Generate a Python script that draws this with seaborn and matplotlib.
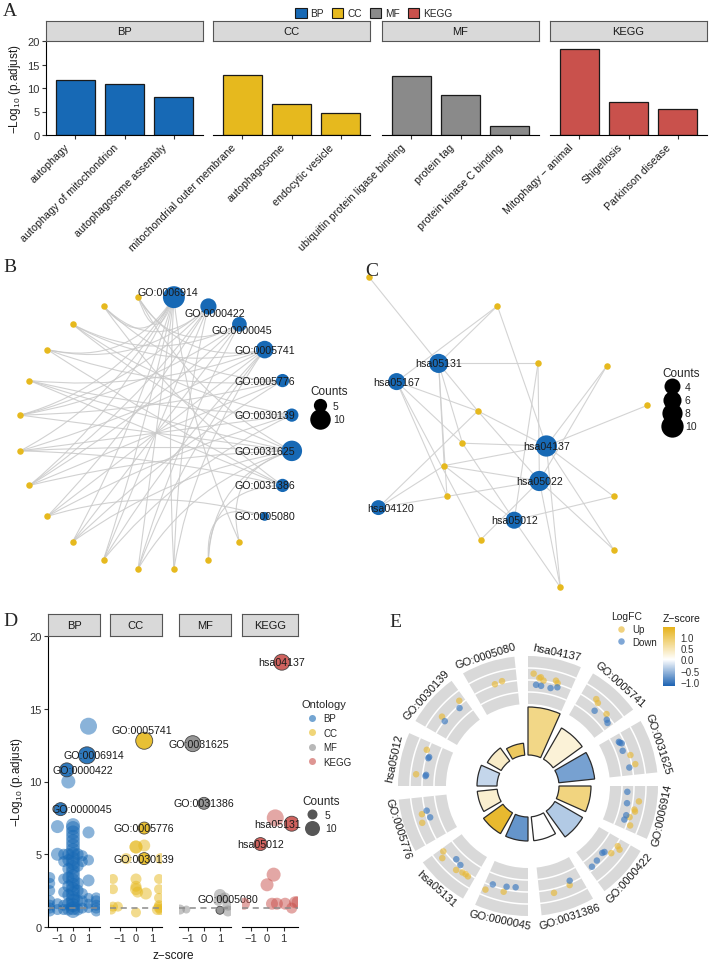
import numpy as np
import pandas as pd
import matplotlib
matplotlib.use("Agg")
import matplotlib.pyplot as plt
from matplotlib.lines import Line2D
from matplotlib.patches import Patch, PathPatch
from matplotlib.path import Path
from matplotlib.colors import LinearSegmentedColormap, Normalize
from matplotlib.cm import ScalarMappable
from matplotlib.transforms import ScaledTranslation
import seaborn as sns

# ---------------- shared ----------------
ontologies = ["BP", "CC", "MF", "KEGG"]
onto_colors = {"BP": "#1769B5", "CC": "#E6B91E", "MF": "#8A8A8A", "KEGG": "#C9514C"}
node_blue = "#1769B5"
node_gold = "#E6B91E"

# ---------------- A: top terms ----------------
bar_terms = ["autophagy", "autophagy of mitochondrion", "autophagosome assembly",
             "mitochondrial outer membrane", "autophagosome", "endocytic vesicle",
             "ubiquitin protein ligase binding", "protein tag", "protein kinase C binding",
             "Mitophagy \u2212 animal", "Shigellosis", "Parkinson disease"]
bar_onto = ["BP", "BP", "BP", "CC", "CC", "CC", "MF", "MF", "MF", "KEGG", "KEGG", "KEGG"]
bar_logp = [11.8, 10.8, 8.1, 12.8, 6.7, 4.6, 12.6, 8.5, 1.9, 18.2, 7.0, 5.6]

# ---------------- B: GO gene-concept network ----------------
cnet_terms = ["GO:0006914", "GO:0000422", "GO:0000045", "GO:0005741", "GO:0005776",
              "GO:0030139", "GO:0031625", "GO:0031386", "GO:0005080"]
cnet_genes = ["g01", "g02", "g03", "g04", "g05", "g06", "g07", "g08",
              "g09", "g10", "g11", "g12", "g13", "g14", "g15"]
cnet_links = {
    "g01": ["GO:0006914", "GO:0031625"],
    "g02": ["GO:0005080", "GO:0031625", "GO:0031386"],
    "g03": ["GO:0000422", "GO:0006914", "GO:0005741"],
    "g04": ["GO:0006914", "GO:0005741", "GO:0031625", "GO:0000045"],
    "g05": ["GO:0000422", "GO:0005741", "GO:0030139", "GO:0006914"],
    "g06": ["GO:0006914", "GO:0000045", "GO:0005776", "GO:0031625"],
    "g07": ["GO:0000422", "GO:0005741", "GO:0030139", "GO:0005080"],
    "g08": ["GO:0006914", "GO:0031625", "GO:0005776", "GO:0000045", "GO:0000422"],
    "g09": ["GO:0005741", "GO:0030139", "GO:0031625", "GO:0006914", "GO:0031386"],
    "g10": ["GO:0000422", "GO:0005776", "GO:0031625", "GO:0006914", "GO:0000045"],
    "g11": ["GO:0005741", "GO:0030139", "GO:0031625", "GO:0031386"],
    "g12": ["GO:0006914", "GO:0000422", "GO:0005776", "GO:0031386"],
    "g13": ["GO:0005741", "GO:0030139", "GO:0031625", "GO:0000045"],
    "g14": ["GO:0006914", "GO:0000422", "GO:0005776", "GO:0031386"],
    "g15": ["GO:0006914", "GO:0000045", "GO:0005741", "GO:0031625"],
}
# text nudges of the repelled labels (layout units)
cnet_label_shift = {"GO:0006914": (-0.045, 0.035), "GO:0000422": (0.05, -0.045),
                    "GO:0000045": (0.02, -0.045), "GO:0005776": (-0.13, 0),
                    "GO:0030139": (-0.2, 0), "GO:0031625": (-0.2, 0),
                    "GO:0031386": (-0.13, 0)}

# ---------------- C: KEGG network (layout coordinates) ----------------
kegg_terms = ["hsa05131", "hsa05167", "hsa04137", "hsa05022", "hsa05012", "hsa04120"]
kegg_term_x = [-0.51, -0.81, 0.26, 0.21, 0.03, -0.94]
kegg_term_y = [0.54, 0.41, -0.05, -0.30, -0.58, -0.49]
kegg_genes = ["k01", "k02", "k03", "k04", "k05", "k06", "k07",
              "k08", "k09", "k10", "k11", "k12", "k13"]
kegg_gene_x = [-1.01, -0.09, 0.20, 0.69, 0.98, -0.23, -0.34, -0.47, -0.45, 0.74, -0.21, 0.74, 0.36]
kegg_gene_y = [1.16, 0.95, 0.54, 0.52, 0.24, 0.20, -0.03, -0.19, -0.41, -0.41, -0.72, -0.79, -1.06]
kegg_links = {
    "k01": ["hsa05131"],
    "k02": ["hsa05131", "hsa05167", "hsa04137"],
    "k03": ["hsa05131", "hsa05022", "hsa05012"],
    "k04": ["hsa04137", "hsa05022"],
    "k05": ["hsa04137"],
    "k06": ["hsa05131", "hsa05167", "hsa04137", "hsa04120", "hsa05022"],
    "k07": ["hsa05131", "hsa05167", "hsa04137", "hsa05012"],
    "k08": ["hsa05131", "hsa04137", "hsa05022", "hsa04120", "hsa05012"],
    "k09": ["hsa05131", "hsa05167", "hsa05022", "hsa04120"],
    "k10": ["hsa04137", "hsa05012"],
    "k11": ["hsa05167", "hsa05022"],
    "k12": ["hsa04137", "hsa05022"],
    "k13": ["hsa05022", "hsa05012", "hsa04137"],
}
kegg_label_shift = {"hsa04120": (0.09, 0)}

# ---------------- D: bubble plot (z-score, -log10 p, count) ----------------
bubble_bg = {
    "BP": [(0.0, 1.1, 9), (0.0, 1.3, 9), (0.0, 1.5, 9), (0.0, 1.8, 9), (0.0, 2.0, 9), (0.0, 2.3, 9),
           (0.0, 2.6, 9), (0.0, 2.9, 9), (0.0, 3.2, 9), (0.0, 3.5, 9), (0.0, 3.8, 9), (0.0, 4.1, 9),
           (0.0, 4.4, 9), (0.0, 4.7, 9), (0.0, 5.0, 9), (0.0, 5.3, 9), (0.0, 5.6, 9), (0.0, 5.9, 9),
           (0.0, 6.2, 9), (0.0, 6.5, 9), (0.0, 6.8, 9), (0.0, 7.0, 9),
           (-0.3, 1.2, 7), (-0.3, 1.6, 7), (-0.3, 2.2, 7), (-0.3, 2.8, 7), (-0.3, 3.4, 7),
           (-0.3, 4.0, 7), (-0.3, 4.6, 7), (-0.3, 5.0, 7),
           (0.3, 1.2, 7), (0.3, 1.8, 7), (0.3, 2.5, 7), (0.3, 3.0, 7), (0.3, 4.2, 7), (0.3, 5.0, 7),
           (-0.6, 1.2, 6), (-0.6, 1.5, 6), (-0.6, 2.4, 6), (-0.6, 3.3, 6), (-0.6, 4.5, 6), (-0.6, 5.0, 6),
           (0.6, 1.3, 6), (0.6, 1.8, 6), (0.6, 2.3, 6), (0.6, 4.5, 6), (0.6, 4.9, 6),
           (-1.0, 1.2, 6), (-1.0, 1.6, 6), (-1.0, 5.0, 8), (-1.0, 6.9, 8),
           (1.0, 1.3, 5), (1.0, 1.6, 5), (1.0, 2.0, 5), (1.0, 3.2, 7), (1.0, 4.6, 6), (1.0, 6.5, 7),
           (-1.5, 1.1, 6), (-1.5, 1.3, 6), (-1.5, 1.5, 6), (-1.5, 1.8, 6), (-1.5, 2.5, 6),
           (-1.5, 3.0, 6), (-1.5, 3.4, 6),
           (1.5, 1.1, 6), (1.5, 1.3, 6), (1.5, 1.5, 6), (1.5, 1.8, 6), (1.5, 2.0, 6),
           (1.0, 13.8, 12), (-0.3, 10.0, 9)],
    "CC": [(0.0, 5.5, 8), (0.0, 5.5, 8), (0.5, 5.6, 7), (-0.6, 4.7, 6), (1.5, 4.7, 6),
           (0.0, 3.3, 6), (0.0, 2.8, 6), (0.0, 2.6, 7), (0.1, 2.4, 6), (0.6, 2.3, 7),
           (-1.4, 3.3, 5), (-1.4, 2.6, 5), (-1.4, 1.4, 5), (-1.1, 1.4, 5), (-1.5, 1.2, 5),
           (1.4, 3.3, 5), (1.4, 2.6, 5), (1.4, 2.0, 5), (1.4, 1.5, 5), (1.3, 1.2, 6),
           (1.5, 1.2, 6), (1.4, 1.35, 6), (0.0, 1.0, 5)],
    "MF": [(-1.5, 1.2, 5), (-1.1, 1.2, 3), (1.0, 2.2, 7), (1.3, 2.0, 6), (1.5, 1.5, 6),
           (1.5, 1.1, 6), (0.9, 1.8, 5)],
    "KEGG": [(0.5, 7.5, 12), (0.4, 3.6, 9), (0.0, 2.9, 8), (-1.4, 1.6, 7), (0.3, 1.6, 7),
             (0.6, 1.6, 7), (1.1, 1.6, 7), (1.7, 1.7, 7), (1.5, 1.3, 6), (1.85, 1.7, 7)],
}
bubble_top = [
    ("BP", "GO:0006914", 0.9, 11.8, 12), ("BP", "GO:0000422", -0.4, 10.8, 9),
    ("BP", "GO:0000045", -0.8, 8.1, 8),
    ("CC", "GO:0005741", 0.5, 12.8, 12), ("CC", "GO:0005776", 0.5, 6.8, 7),
    ("CC", "GO:0030139", 0.5, 4.7, 7),
    ("MF", "GO:0031625", -0.7, 12.6, 11), ("MF", "GO:0031386", 0.0, 8.5, 7),
    ("MF", "GO:0005080", 1.0, 1.15, 3),
    ("KEGG", "hsa04137", 0.9, 18.2, 11), ("KEGG", "hsa05131", 1.5, 7.1, 10),
    ("KEGG", "hsa05012", -0.4, 5.7, 8),
]
bubble_label_shift = {"GO:0006914": (0.45, 0), "GO:0000422": (1.05, 0), "GO:0000045": (1.4, 0),
                      "GO:0005741": (-0.15, 0.75), "GO:0031625": (0.4, 0), "GO:0005080": (0.5, 0.8),
                      "hsa05131": (-0.85, 0)}
neg_log_cutoff = 1.3

# ---------------- E: GO circle ----------------
circ_terms = ["hsa04137", "GO:0005741", "GO:0031625", "GO:0006914", "GO:0000422", "GO:0031386",
              "GO:0000045", "hsa05131", "GO:0005776", "hsa05012", "GO:0030139", "GO:0005080"]
circ_count = [12, 9, 9, 8, 8, 6, 6, 6, 5, 5, 4, 3]
circ_zscore = [0.75, 0.25, -0.7, 0.8, -0.4, 0.0, -0.8, 1.3, 0.3, -0.3, 0.35, 1.0]
# (position inside the sector, logFC) of each gene
circ_genes = {
    "hsa04137": [(0.12, 1.3), (0.25, 0.5), (0.35, 0.1), (0.28, 0.7), (0.62, 0.6), (0.67, 0.2),
                 (0.19, -0.9), (0.31, -1.0), (0.54, -1.1), (0.69, -0.6)],
    "GO:0005741": [(0.34, 0.9), (0.42, 0.5), (0.73, 0.1), (0.48, -1.1), (0.83, -0.6), (0.9, -0.9)],
    "GO:0031625": [(0.55, 0.2), (0.77, 0.7), (0.17, -1.0), (0.23, -0.6), (0.4, -1.0),
                   (0.82, -0.6), (0.2, -0.9)],
    "GO:0006914": [(0.33, 1.2), (0.52, 0.6), (0.56, 0.8), (0.71, 0.05), (0.88, 0.7),
                   (0.14, -1.3), (0.41, -1.1), (0.69, -0.7), (0.8, -0.8)],
    "GO:0000422": [(0.16, 0.4), (0.2, 1.1), (0.37, 0.2), (0.45, -1.0), (0.5, -1.2),
                   (0.72, -0.9), (0.9, -0.6)],
    "GO:0031386": [(0.3, 0.3), (0.68, 0.8), (0.26, -0.5)],
    "GO:0000045": [(0.93, 1.2), (0.54, 0.5), (0.82, -0.3), (0.5, -0.6), (0.29, -0.8)],
    "hsa05131": [(0.93, 0.2), (0.83, 1.2), (0.44, 0.9), (0.3, 0.5), (0.22, 0.4), (0.15, 0.5),
                 (0.6, -0.7), (0.44, -0.4)],
    "GO:0005776": [(0.63, 0.75), (0.45, 1.2), (0.68, -0.35), (0.51, -0.65)],
    "hsa05012": [(0.82, 0.3), (0.25, 1.3), (0.65, -0.5), (0.68, -0.6), (0.23, -0.6), (0.26, -0.7)],
    "GO:0030139": [(0.88, 0.7), (0.37, 0.9), (0.78, -0.45), (0.33, -0.1)],
    "GO:0005080": [(0.5, 0.2), (0.67, 0.4)],
}
up_color = "#E8B938"
down_color = "#3A78C0"

# ---------------- figure ----------------
sns.set_theme(style="white")
plt.rcParams["font.family"] = ["Liberation Sans", "DejaVu Sans"]
plt.rcParams["mathtext.default"] = "regular"

W, H = 709, 962
fig = plt.figure(figsize=(W / 100, H / 100), dpi=100)
ink = "#1a1a1a"


def px_axes(x0, y0, x1, y1, **kw):
    return fig.add_axes([x0 / W, 1 - y1 / H, (x1 - x0) / W, (y1 - y0) / H], **kw)


def strip(x0, x1, y0, y1, label):
    sa = px_axes(x0, y0, x1, y1)
    sa.set_facecolor("#D9D9D9")
    sa.set_xticks([])
    sa.set_yticks([])
    for s in sa.spines.values():
        s.set_visible(True)
        s.set_color("#555555")
        s.set_linewidth(0.8)
    sa.text(0.5, 0.5, label, ha="center", va="center", fontsize=8, color=ink,
            transform=sa.transAxes)


def style_facet(ax, first):
    ax.spines["top"].set_visible(False)
    ax.spines["right"].set_visible(False)
    ax.spines["left"].set_visible(first)
    for s in ("left", "bottom"):
        ax.spines[s].set_color("black")
        ax.spines[s].set_linewidth(0.8)
    ax.tick_params(axis="both", bottom=True, left=first, length=3, width=0.8,
                   color="#333333", labelsize=8, labelcolor="#333333", pad=1.5)
    if not first:
        ax.set_yticklabels([])
    ax.set_facecolor("none")


def letter(x, y, s):
    fig.text(x / W, 1 - y / H, s, fontsize=14, family=["Liberation Serif", "DejaVu Serif"],
             ha="left", va="center")


def size_legend(values, diam_fn, color, anchor, alpha=1.0, spacing=0.4):
    handles = [Line2D([], [], marker="o", ls="", color=color, alpha=alpha,
                      markersize=diam_fn(v) / 1.389, markeredgewidth=0) for v in values]
    leg = fig.legend(handles, [str(v) for v in values], title="Counts", loc="upper left",
                     bbox_to_anchor=(anchor[0] / W, 1 - anchor[1] / H), frameon=False,
                     fontsize=7.5, title_fontsize=8.5, handletextpad=0.2, labelspacing=spacing,
                     borderpad=0, borderaxespad=0)
    leg._legend_box.align = "left"
    return leg


# ----- A -----
facet_A = {"BP": (46, 203), "CC": (213, 370), "MF": (382, 539), "KEGG": (550, 707)}
bars = pd.DataFrame({"term": bar_terms, "onto": bar_onto, "logp": bar_logp})
label_offset = ScaledTranslation(-0.08, -0.04, fig.dpi_scale_trans)
for i, onto in enumerate(ontologies):
    x0, x1 = facet_A[onto]
    ax = px_axes(x0, 42, x1, 136)
    sub = bars[bars.onto == onto]
    sns.barplot(data=sub, x="term", y="logp", color=onto_colors[onto], saturation=1,
                edgecolor=ink, linewidth=0.9, width=0.8, ax=ax)
    ax.set_xlim(-0.6, 2.6)
    ax.set_ylim(0, 20)
    ax.set_xlabel("")
    style_facet(ax, first=(i == 0))
    ax.set_yticks([0, 5, 10, 15, 20])
    if i == 0:
        ax.set_yticklabels(["0", "5", "10", "15", "20"])
        ax.set_ylabel("\u2212Log$_{10}$ (p.adjust)", fontsize=8.5, color=ink, labelpad=3)
    else:
        ax.set_ylabel("")
    ax.set_xticks(range(len(sub)))
    ax.set_xticklabels(sub.term, rotation=45, ha="right", va="center",
                       rotation_mode="anchor", fontsize=7.7, color=ink)
    for lab in ax.get_xticklabels():
        lab.set_transform(lab.get_transform() + label_offset)
    strip(x0, x1, 22, 42, onto)

leg = fig.legend([Patch(facecolor=onto_colors[o], edgecolor=ink, linewidth=0.8) for o in ontologies],
                 ontologies, loc="center", bbox_to_anchor=(374 / W, 1 - 14 / H), ncol=4,
                 frameon=False, fontsize=7.3, handlelength=1.1, handleheight=1.1,
                 handletextpad=0.4, columnspacing=0.8, borderpad=0)
letter(3, 12, "A")

# ----- B -----
axB = px_axes(0, 275, 360, 595)
axB.set_xlim(-156 / 137, 204 / 137)
axB.set_ylim(-161 / 137, 159 / 137)
axB.axis("off")
nodes_B = cnet_terms + cnet_genes
ang = np.deg2rad(82.5 - 360 / len(nodes_B) * np.arange(len(nodes_B)))
posB = {n: (np.cos(a), np.sin(a)) for n, a in zip(nodes_B, ang)}
degB = {t: 0 for t in cnet_terms}
for g, terms in cnet_links.items():
    for t in terms:
        degB[t] += 1
        (xa, ya), (xb, yb) = posB[g], posB[t]
        ctrl = (0.6 * (xa + xb) / 2, 0.6 * (ya + yb) / 2)
        path = Path([(xa, ya), ctrl, (xb, yb)], [Path.MOVETO, Path.CURVE3, Path.CURVE3])
        axB.add_patch(PathPatch(path, facecolor="none", edgecolor="#C9C9C9", lw=0.8,
                                alpha=0.85, zorder=1))


def diamB(c):
    return 6 + 1.45 * c


gx = [posB[g][0] for g in cnet_genes]
gy = [posB[g][1] for g in cnet_genes]
axB.scatter(gx, gy, s=(6.5 / 1.389) ** 2, color=node_gold, linewidths=0, zorder=3)
tx = [posB[t][0] for t in cnet_terms]
ty = [posB[t][1] for t in cnet_terms]
axB.scatter(tx, ty, s=[(diamB(degB[t]) / 1.389) ** 2 for t in cnet_terms],
            color=node_blue, linewidths=0, zorder=3)
for t in cnet_terms:
    dx, dy = cnet_label_shift.get(t, (0, 0))
    axB.text(posB[t][0] + dx, posB[t][1] + dy, t, ha="center", va="center",
             fontsize=7.7, color=ink, zorder=4)
size_legend([5, 10], diamB, "black", (310, 386), spacing=0.35)
letter(3, 268, "B")

# ----- C -----
axC = px_axes(360, 275, 709, 600)
axC.set_xlim(-150 / 140, 199 / 140)
axC.set_ylim(-160 / 140, 165 / 140)
axC.axis("off")
posC = {t: (x, y) for t, x, y in zip(kegg_terms, kegg_term_x, kegg_term_y)}
posC.update({g: (x, y) for g, x, y in zip(kegg_genes, kegg_gene_x, kegg_gene_y)})
degC = {t: 0 for t in kegg_terms}
for g, terms in kegg_links.items():
    for t in terms:
        degC[t] += 1
        axC.plot([posC[g][0], posC[t][0]], [posC[g][1], posC[t][1]], color="#CFCFCF",
                 lw=0.8, alpha=0.9, zorder=1)


def diamC(c):
    return 11.8 + 1.05 * c


axC.scatter(kegg_gene_x, kegg_gene_y, s=(6.5 / 1.389) ** 2, color=node_gold, linewidths=0, zorder=3)
axC.scatter(kegg_term_x, kegg_term_y, s=[(diamC(degC[t]) / 1.389) ** 2 for t in kegg_terms],
            color=node_blue, linewidths=0, zorder=3)
for t in kegg_terms:
    dx, dy = kegg_label_shift.get(t, (0, 0))
    axC.text(posC[t][0] + dx, posC[t][1] + dy, t, ha="center", va="center",
             fontsize=7.7, color=ink, zorder=4)
size_legend([4, 6, 8, 10], diamC, "black", (662, 368), spacing=0.3)
letter(365, 272, "C")

# ----- D -----
facet_D = {"BP": (48, 100), "CC": (110, 162), "MF": (179, 231), "KEGG": (242, 298)}
xlim_D = {"BP": (-1.61, 1.74), "CC": (-1.58, 1.58), "MF": (-1.56, 1.69), "KEGG": (-1.52, 1.88)}
rows = []
for onto in ontologies:
    for z, lp, n in bubble_bg[onto]:
        rows.append((onto, "", z, lp, n, False))
for onto, tid, z, lp, n in bubble_top:
    rows.append((onto, tid, z, lp, n, True))
bub = pd.DataFrame(rows, columns=["onto", "id", "z", "logp", "count", "top"])


def diamD(c):
    return 5 + 1.0 * c


size_map = {c: (diamD(c) / 1.389) ** 2 for c in sorted(bub["count"].unique())}
for i, onto in enumerate(ontologies):
    x0, x1 = facet_D[onto]
    ax = px_axes(x0, 637, x1, 928)
    bg = bub[(bub.onto == onto) & ~bub.top]
    top = bub[(bub.onto == onto) & bub.top]
    sns.scatterplot(data=bg, x="z", y="logp", size="count", sizes=size_map,
                    color=onto_colors[onto], alpha=0.5, linewidth=0, legend=False, ax=ax)
    sns.scatterplot(data=top, x="z", y="logp", size="count", sizes=size_map,
                    color=onto_colors[onto], alpha=0.9, edgecolor="#3a3a3a", linewidth=0.6,
                    legend=False, ax=ax, zorder=3)
    ax.axhline(neg_log_cutoff, color="#8C8C8C", lw=1.1, dashes=(4, 3), zorder=4)
    for _, r in top.iterrows():
        dx, dy = bubble_label_shift.get(r["id"], (0, 0))
        ax.text(r.z + dx, r.logp + dy, r["id"], ha="center", va="center", fontsize=7.7,
                color=ink, zorder=5, clip_on=False)
    ax.set_xlim(*xlim_D[onto])
    ax.set_ylim(0, 20)
    ax.set_xticks([-1, 0, 1])
    ax.set_xticklabels(["\u22121", "0", "1"])
    ax.set_xlabel("")
    style_facet(ax, first=(i == 0))
    ax.set_yticks([0, 5, 10, 15, 20])
    if i == 0:
        ax.set_yticklabels(["0", "5", "10", "15", "20"])
        ax.set_ylabel("\u2212Log$_{10}$ (p.adjust)", fontsize=8.5, color=ink, labelpad=3)
    else:
        ax.set_ylabel("")
    strip(x0, x1, 615, 637, onto)

fig.text(173 / W, 1 - 956 / H, "z\u2212score", ha="center", va="center", fontsize=8.5, color=ink)
leg = fig.legend([Line2D([], [], marker="o", ls="", color=onto_colors[o], alpha=0.6,
                         markersize=7 / 1.389, markeredgewidth=0) for o in ontologies],
                 ontologies, title="Ontology", loc="upper left",
                 bbox_to_anchor=(302 / W, 1 - 700 / H), frameon=False, fontsize=7,
                 title_fontsize=8, handletextpad=0.2, labelspacing=0.45, borderpad=0,
                 borderaxespad=0)
leg._legend_box.align = "left"
size_legend([5, 10], diamD, "#4D4D4D", (302, 796), alpha=0.95, spacing=0.3)
letter(3, 621, "D")

# ----- E -----
cmap = LinearSegmentedColormap.from_list(
    "zs", [(0.0, "#1C62B2"), (0.45, "#FFFFFF"), (1.0, "#E6B21A")])
norm = Normalize(vmin=-1.18, vmax=1.44)
axE = fig.add_axes([388 / W, 1 - 927 / H, 280 / W, 280 / H], projection="polar")
axE.set_theta_zero_location("N")
axE.set_theta_direction(-1)
axE.set_ylim(0, 140)
axE.axis("off")
axE.patch.set_alpha(0)
sector = np.deg2rad(24)
for k, term in enumerate(circ_terms):
    th0 = np.deg2rad(30 * k)
    axE.bar(th0, 48, width=sector, bottom=82, align="edge", color="#D9D9D9", linewidth=0)
    arc = np.linspace(th0, th0 + sector, 40)
    for rr in (94, 106, 118):
        axE.plot(arc, np.full_like(arc, rr), color="white", lw=1.1)
    axE.bar(th0, 4 * circ_count[k], width=sector, bottom=31, align="edge",
            color=cmap(norm(circ_zscore[k])), edgecolor="#2b2b2b", linewidth=0.9)
    pts = circ_genes[term]
    th = [th0 + f * sector for f, _ in pts]
    rr = [106 + 5 * lfc for _, lfc in pts]
    cols = [up_color if lfc > 0 else down_color for _, lfc in pts]
    axE.scatter(th, rr, s=(6.5 / 1.389) ** 2, c=cols, alpha=0.65, linewidths=0, zorder=4)
    mid = 30 * k + 12
    rot = 180 - mid if 90 < mid < 270 else -mid
    axE.text(np.deg2rad(mid), 137, term, rotation=rot, rotation_mode="anchor",
             ha="center", va="center", fontsize=8, color=ink)

cax = px_axes(663, 628, 675, 687)
cb = fig.colorbar(ScalarMappable(norm=norm, cmap=cmap), cax=cax, ticks=[-1, -0.5, 0, 0.5, 1])
cb.outline.set_visible(False)
cax.set_yticklabels(["\u22121.0", "\u22120.5", "0.0", "0.5", "1.0"])
cax.tick_params(labelsize=7, length=2.5, width=0.8, color="white", labelcolor="#333333", pad=1.5)
fig.text(663 / W, 1 - 619 / H, "Z\u2212score", ha="left", va="center", fontsize=7.5, color=ink)
leg = fig.legend([Line2D([], [], marker="o", ls="", color=c, alpha=0.65, markersize=6.5 / 1.389,
                         markeredgewidth=0) for c in (up_color, down_color)],
                 ["Up", "Down"], title="LogFC", loc="upper left",
                 bbox_to_anchor=(611 / W, 1 - 612 / H), frameon=False, fontsize=7,
                 title_fontsize=7.5, handletextpad=0.2, labelspacing=0.3, borderpad=0,
                 borderaxespad=0)
leg._legend_box.align = "left"
letter(389, 623, "E")

fig.savefig("out.png", dpi=100)
